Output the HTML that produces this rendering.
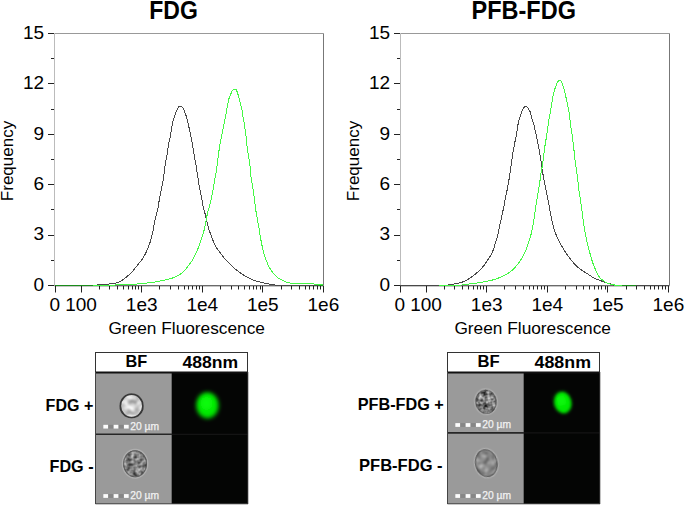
<!DOCTYPE html>
<html><head><meta charset="utf-8"><style>
html,body{margin:0;padding:0;background:#fff;}
body{width:685px;height:506px;overflow:hidden;}
svg{display:block;font-family:"Liberation Sans",sans-serif;}
</style></head><body>
<svg width="685" height="506" viewBox="0 0 685 506">
<defs>
<filter id="soft" x="-20%" y="-20%" width="140%" height="140%"><feGaussianBlur stdDeviation="0.5"/></filter>
<filter id="soft2" x="-20%" y="-20%" width="140%" height="140%"><feGaussianBlur stdDeviation="0.7"/></filter>
<filter id="blurA" x="-50%" y="-50%" width="200%" height="200%"><feGaussianBlur stdDeviation="2.0"/></filter>
<filter id="blurB" x="-50%" y="-50%" width="200%" height="200%"><feGaussianBlur stdDeviation="3"/></filter>
<filter id="blurC" x="-50%" y="-50%" width="200%" height="200%"><feGaussianBlur stdDeviation="1.4"/></filter>
<filter id="texL1" x="0" y="0" width="1" height="1" color-interpolation-filters="sRGB"><feTurbulence type="fractalNoise" baseFrequency="0.2" numOctaves="2" seed="7"/><feColorMatrix type="matrix" values="0.9 0 0 0 0.35000000000000003  0.9 0 0 0 0.35000000000000003  0.9 0 0 0 0.35000000000000003  0 0 0 0 1"/><feGaussianBlur stdDeviation="0.9"/></filter>
<filter id="texD2" x="0" y="0" width="1" height="1" color-interpolation-filters="sRGB"><feTurbulence type="fractalNoise" baseFrequency="0.22" numOctaves="2" seed="11"/><feColorMatrix type="matrix" values="0.9 0 0 0 0.04999999999999999  0.9 0 0 0 0.04999999999999999  0.9 0 0 0 0.04999999999999999  0 0 0 0 1"/><feGaussianBlur stdDeviation="0.75"/></filter>
<filter id="texD3" x="0" y="0" width="1" height="1" color-interpolation-filters="sRGB"><feTurbulence type="fractalNoise" baseFrequency="0.24" numOctaves="2" seed="5"/><feColorMatrix type="matrix" values="1.1 0 0 0 -0.08000000000000007  1.1 0 0 0 -0.08000000000000007  1.1 0 0 0 -0.08000000000000007  0 0 0 0 1"/><feGaussianBlur stdDeviation="0.7"/></filter>
<filter id="texD4" x="0" y="0" width="1" height="1" color-interpolation-filters="sRGB"><feTurbulence type="fractalNoise" baseFrequency="0.2" numOctaves="2" seed="9"/><feColorMatrix type="matrix" values="0.75 0 0 0 0.16500000000000004  0.75 0 0 0 0.16500000000000004  0.75 0 0 0 0.16500000000000004  0 0 0 0 1"/><feGaussianBlur stdDeviation="0.8"/></filter>
</defs>
<rect width="685" height="506" fill="#fff"/>
<line x1="54.50" y1="33.50" x2="323.50" y2="33.50" stroke="#999" stroke-width="1"/>
<line x1="54.50" y1="33.50" x2="54.50" y2="285.50" stroke="#bbb" stroke-width="1"/>
<line x1="323.50" y1="33.50" x2="323.50" y2="285.50" stroke="#777" stroke-width="1"/>
<line x1="54.50" y1="285.50" x2="323.50" y2="285.50" stroke="#666" stroke-width="1"/>
<line x1="54.50" y1="286.30" x2="323.50" y2="286.30" stroke="#888" stroke-width="0.6"/>
<path d="M54.60,285.40 C60.83,285.38 84.43,285.45 92.00,285.30 C99.57,285.15 97.45,284.68 100.00,284.50 C102.55,284.32 104.82,284.40 107.30,284.20 C109.78,284.00 113.20,283.58 114.90,283.30 C116.60,283.02 116.47,282.90 117.50,282.50 C118.53,282.10 119.92,281.57 121.10,280.90 C122.28,280.23 123.45,279.37 124.60,278.50 C125.75,277.63 126.97,276.62 128.00,275.70 C129.03,274.78 129.88,273.92 130.80,273.00 C131.72,272.08 132.45,271.43 133.50,270.20 C134.55,268.97 135.70,267.37 137.10,265.60 C138.50,263.83 140.52,261.58 141.90,259.60 C143.28,257.62 144.38,255.67 145.40,253.70 C146.42,251.73 147.20,249.77 148.00,247.80 C148.80,245.83 149.55,243.88 150.20,241.90 C150.85,239.92 151.38,237.92 151.90,235.90 C152.42,233.88 152.90,231.88 153.30,229.80 C153.70,227.72 153.90,225.47 154.30,223.40 C154.70,221.33 155.22,219.38 155.70,217.40 C156.18,215.42 156.75,213.47 157.20,211.50 C157.65,209.53 158.05,207.58 158.40,205.60 C158.75,203.62 158.97,201.58 159.30,199.60 C159.63,197.62 160.00,195.67 160.40,193.70 C160.80,191.73 161.30,189.77 161.70,187.80 C162.10,185.83 162.47,183.88 162.80,181.90 C163.13,179.92 163.40,177.88 163.70,175.90 C164.00,173.92 164.32,172.08 164.60,170.00 C164.88,167.92 165.07,165.50 165.40,163.40 C165.73,161.30 166.23,159.38 166.60,157.40 C166.97,155.42 167.30,153.47 167.60,151.50 C167.90,149.53 168.07,147.58 168.40,145.60 C168.73,143.62 169.20,141.58 169.60,139.60 C170.00,137.62 170.45,135.67 170.80,133.70 C171.15,131.73 171.35,129.77 171.70,127.80 C172.05,125.83 172.43,123.83 172.90,121.90 C173.37,119.97 173.98,117.87 174.50,116.20 C175.02,114.53 175.52,113.12 176.00,111.90 C176.48,110.68 176.92,109.77 177.40,108.90 C177.88,108.03 178.40,107.15 178.90,106.70 C179.40,106.25 179.85,106.13 180.40,106.20 C180.95,106.27 181.70,106.65 182.20,107.10 C182.70,107.55 183.00,108.10 183.40,108.90 C183.80,109.70 184.17,110.80 184.60,111.90 C185.03,113.00 185.50,113.98 186.00,115.50 C186.50,117.02 187.13,119.17 187.60,121.00 C188.07,122.83 188.35,124.38 188.80,126.50 C189.25,128.62 189.85,131.52 190.30,133.70 C190.75,135.88 191.12,137.62 191.50,139.60 C191.88,141.58 192.25,143.62 192.60,145.60 C192.95,147.58 193.28,149.53 193.60,151.50 C193.92,153.47 194.15,155.42 194.50,157.40 C194.85,159.38 195.35,161.42 195.70,163.40 C196.05,165.38 196.27,167.22 196.60,169.30 C196.93,171.38 197.37,173.80 197.70,175.90 C198.03,178.00 198.30,179.92 198.60,181.90 C198.90,183.88 199.15,185.83 199.50,187.80 C199.85,189.77 200.30,191.73 200.70,193.70 C201.10,195.67 201.52,197.62 201.90,199.60 C202.28,201.58 202.57,203.62 203.00,205.60 C203.43,207.58 204.00,209.53 204.50,211.50 C205.00,213.47 205.52,215.42 206.00,217.40 C206.48,219.38 206.90,221.37 207.40,223.40 C207.90,225.43 208.38,227.60 209.00,229.60 C209.62,231.60 210.33,233.35 211.10,235.40 C211.87,237.45 212.68,239.83 213.60,241.90 C214.52,243.97 215.40,245.83 216.60,247.80 C217.80,249.77 219.32,251.73 220.80,253.70 C222.28,255.67 223.73,257.62 225.50,259.60 C227.27,261.58 229.23,263.62 231.40,265.60 C233.57,267.58 235.83,269.53 238.50,271.50 C241.17,273.47 244.65,275.87 247.40,277.40 C250.15,278.93 252.58,279.85 255.00,280.70 C257.42,281.55 259.57,281.95 261.90,282.50 C264.23,283.05 266.65,283.57 269.00,284.00 C271.35,284.43 272.50,284.87 276.00,285.10 C279.50,285.33 282.10,285.35 290.00,285.40 C297.90,285.45 317.83,285.40 323.40,285.40" fill="none" stroke="#484848" stroke-width="1" shape-rendering="crispEdges"/>
<path d="M54.60,285.40 C63.50,285.38 97.77,285.38 108.00,285.30 C118.23,285.22 113.17,285.03 116.00,284.90 C118.83,284.77 121.48,284.65 125.00,284.50 C128.52,284.35 133.10,284.28 137.10,284.00 C141.10,283.72 145.63,283.20 149.00,282.80 C152.37,282.40 154.53,282.10 157.30,281.60 C160.07,281.10 162.73,280.50 165.60,279.80 C168.47,279.10 172.35,278.17 174.50,277.40 C176.65,276.63 177.35,275.87 178.50,275.20 C179.65,274.53 180.25,274.35 181.40,273.40 C182.55,272.45 184.08,270.98 185.40,269.50 C186.72,268.02 188.07,266.15 189.30,264.50 C190.53,262.85 191.80,261.25 192.80,259.60 C193.80,257.95 194.52,256.25 195.30,254.60 C196.08,252.95 196.80,251.33 197.50,249.70 C198.20,248.07 198.88,246.45 199.50,244.80 C200.12,243.15 200.67,241.45 201.20,239.80 C201.73,238.15 202.20,236.55 202.70,234.90 C203.20,233.25 203.75,231.63 204.20,229.90 C204.65,228.17 205.00,226.58 205.40,224.50 C205.80,222.42 206.17,219.57 206.60,217.40 C207.03,215.23 207.50,213.47 208.00,211.50 C208.50,209.53 209.08,207.58 209.60,205.60 C210.12,203.62 210.65,201.58 211.10,199.60 C211.55,197.62 211.90,195.67 212.30,193.70 C212.70,191.73 213.17,189.77 213.50,187.80 C213.83,185.83 213.97,183.88 214.30,181.90 C214.63,179.92 215.12,177.95 215.50,175.90 C215.88,173.85 216.28,171.68 216.60,169.60 C216.92,167.52 217.15,165.43 217.40,163.40 C217.65,161.37 217.85,159.38 218.10,157.40 C218.35,155.42 218.63,153.47 218.90,151.50 C219.17,149.53 219.37,147.58 219.70,145.60 C220.03,143.62 220.50,141.58 220.90,139.60 C221.30,137.62 221.70,135.67 222.10,133.70 C222.50,131.73 222.90,129.77 223.30,127.80 C223.70,125.83 224.10,123.88 224.50,121.90 C224.90,119.92 225.35,117.80 225.70,115.90 C226.05,114.00 226.33,112.12 226.60,110.50 C226.87,108.88 227.08,107.42 227.30,106.20 C227.52,104.98 227.68,104.18 227.90,103.20 C228.12,102.22 228.37,101.25 228.60,100.30 C228.83,99.35 229.05,98.32 229.30,97.50 C229.55,96.68 229.77,96.17 230.10,95.40 C230.43,94.63 230.88,93.75 231.30,92.90 C231.72,92.05 232.07,90.92 232.60,90.30 C233.13,89.68 233.88,89.27 234.50,89.20 C235.12,89.13 235.80,89.28 236.30,89.90 C236.80,90.52 237.15,91.90 237.50,92.90 C237.85,93.90 238.10,94.92 238.40,95.90 C238.70,96.88 239.03,97.82 239.30,98.80 C239.57,99.78 239.77,100.82 240.00,101.80 C240.23,102.78 240.45,103.72 240.70,104.70 C240.95,105.68 241.27,106.70 241.50,107.70 C241.73,108.70 241.90,109.33 242.10,110.70 C242.30,112.07 242.38,114.03 242.70,115.90 C243.02,117.77 243.65,119.92 244.00,121.90 C244.35,123.88 244.50,125.83 244.80,127.80 C245.10,129.77 245.53,131.73 245.80,133.70 C246.07,135.67 246.20,137.62 246.40,139.60 C246.60,141.58 246.77,143.62 247.00,145.60 C247.23,147.58 247.52,149.53 247.80,151.50 C248.08,153.47 248.40,155.42 248.70,157.40 C249.00,159.38 249.32,161.38 249.60,163.40 C249.88,165.42 250.18,167.42 250.40,169.50 C250.62,171.58 250.65,173.83 250.90,175.90 C251.15,177.97 251.58,179.92 251.90,181.90 C252.22,183.88 252.52,185.83 252.80,187.80 C253.08,189.77 253.32,191.73 253.60,193.70 C253.88,195.67 254.23,197.62 254.50,199.60 C254.77,201.58 254.95,203.62 255.20,205.60 C255.45,207.58 255.68,209.53 256.00,211.50 C256.32,213.47 256.75,215.42 257.10,217.40 C257.45,219.38 257.75,221.37 258.10,223.40 C258.45,225.43 258.87,227.52 259.20,229.60 C259.53,231.68 259.75,233.85 260.10,235.90 C260.45,237.95 260.90,239.92 261.30,241.90 C261.70,243.88 262.05,245.83 262.50,247.80 C262.95,249.77 263.42,251.73 264.00,253.70 C264.58,255.67 265.27,257.62 266.00,259.60 C266.73,261.58 267.42,263.62 268.40,265.60 C269.38,267.58 270.82,269.92 271.90,271.50 C272.98,273.08 273.70,273.92 274.90,275.10 C276.10,276.28 277.62,277.62 279.10,278.60 C280.58,279.58 282.32,280.33 283.80,281.00 C285.28,281.67 286.80,282.23 288.00,282.60 C289.20,282.97 289.67,283.05 291.00,283.20 C292.33,283.35 292.42,283.45 296.00,283.50 C299.58,283.55 309.33,283.37 312.50,283.50 C315.67,283.63 313.58,284.12 315.00,284.30 C316.42,284.48 319.60,284.45 321.00,284.60 C322.40,284.75 323.00,285.10 323.40,285.20" fill="none" stroke="#44f844" stroke-width="1" shape-rendering="crispEdges"/>
<line x1="55" y1="285.5" x2="93" y2="285.5" stroke="#1a8c1a" stroke-width="1" shape-rendering="crispEdges"/>
<line x1="318" y1="285.5" x2="323" y2="285.5" stroke="#1a8c1a" stroke-width="1" shape-rendering="crispEdges"/>
<line x1="48.00" y1="285.50" x2="54.00" y2="285.50" stroke="#222" stroke-width="1"/>
<text x="44.20" y="290.70" font-size="19" text-anchor="end" font-weight="normal" >0</text>
<line x1="48.00" y1="235.50" x2="54.00" y2="235.50" stroke="#222" stroke-width="1"/>
<text x="44.20" y="240.30" font-size="19" text-anchor="end" font-weight="normal" >3</text>
<line x1="48.00" y1="184.50" x2="54.00" y2="184.50" stroke="#222" stroke-width="1"/>
<text x="44.20" y="189.90" font-size="19" text-anchor="end" font-weight="normal" >6</text>
<line x1="48.00" y1="134.50" x2="54.00" y2="134.50" stroke="#222" stroke-width="1"/>
<text x="44.20" y="139.50" font-size="19" text-anchor="end" font-weight="normal" >9</text>
<line x1="48.00" y1="83.50" x2="54.00" y2="83.50" stroke="#222" stroke-width="1"/>
<text x="44.20" y="89.10" font-size="19" text-anchor="end" font-weight="normal" >12</text>
<line x1="48.00" y1="33.50" x2="54.00" y2="33.50" stroke="#222" stroke-width="1"/>
<text x="44.20" y="38.70" font-size="19" text-anchor="end" font-weight="normal" >15</text>
<line x1="51.00" y1="260.50" x2="54.00" y2="260.50" stroke="#222" stroke-width="1"/>
<line x1="51.00" y1="209.50" x2="54.00" y2="209.50" stroke="#222" stroke-width="1"/>
<line x1="51.00" y1="159.50" x2="54.00" y2="159.50" stroke="#222" stroke-width="1"/>
<line x1="51.00" y1="109.50" x2="54.00" y2="109.50" stroke="#222" stroke-width="1"/>
<line x1="51.00" y1="58.50" x2="54.00" y2="58.50" stroke="#222" stroke-width="1"/>
<line x1="55.50" y1="286.00" x2="55.50" y2="292.50" stroke="#222" stroke-width="1"/>
<text x="54.90" y="311.00" font-size="19" text-anchor="middle" font-weight="normal" >0</text>
<line x1="81.50" y1="286.00" x2="81.50" y2="292.50" stroke="#222" stroke-width="1"/>
<text x="81.10" y="311.00" font-size="19" text-anchor="middle" font-weight="normal" >100</text>
<line x1="141.50" y1="286.00" x2="141.50" y2="292.50" stroke="#222" stroke-width="1"/>
<text x="141.67" y="311.00" font-size="19" text-anchor="middle" font-weight="normal" >1e3</text>
<line x1="202.50" y1="286.00" x2="202.50" y2="292.50" stroke="#222" stroke-width="1"/>
<text x="202.24" y="311.00" font-size="19" text-anchor="middle" font-weight="normal" >1e4</text>
<line x1="262.50" y1="286.00" x2="262.50" y2="292.50" stroke="#222" stroke-width="1"/>
<text x="262.81" y="311.00" font-size="19" text-anchor="middle" font-weight="normal" >1e5</text>
<line x1="323.50" y1="286.00" x2="323.50" y2="292.50" stroke="#222" stroke-width="1"/>
<text x="323.38" y="311.00" font-size="19" text-anchor="middle" font-weight="normal" >1e6</text>
<line x1="99.50" y1="286.00" x2="99.50" y2="289.50" stroke="#222" stroke-width="1"/>
<line x1="109.50" y1="286.00" x2="109.50" y2="289.50" stroke="#222" stroke-width="1"/>
<line x1="117.50" y1="286.00" x2="117.50" y2="289.50" stroke="#222" stroke-width="1"/>
<line x1="123.50" y1="286.00" x2="123.50" y2="289.50" stroke="#222" stroke-width="1"/>
<line x1="128.50" y1="286.00" x2="128.50" y2="289.50" stroke="#222" stroke-width="1"/>
<line x1="132.50" y1="286.00" x2="132.50" y2="289.50" stroke="#222" stroke-width="1"/>
<line x1="135.50" y1="286.00" x2="135.50" y2="289.50" stroke="#222" stroke-width="1"/>
<line x1="138.50" y1="286.00" x2="138.50" y2="289.50" stroke="#222" stroke-width="1"/>
<line x1="159.50" y1="286.00" x2="159.50" y2="289.50" stroke="#222" stroke-width="1"/>
<line x1="170.50" y1="286.00" x2="170.50" y2="289.50" stroke="#222" stroke-width="1"/>
<line x1="178.50" y1="286.00" x2="178.50" y2="289.50" stroke="#222" stroke-width="1"/>
<line x1="184.50" y1="286.00" x2="184.50" y2="289.50" stroke="#222" stroke-width="1"/>
<line x1="188.50" y1="286.00" x2="188.50" y2="289.50" stroke="#222" stroke-width="1"/>
<line x1="192.50" y1="286.00" x2="192.50" y2="289.50" stroke="#222" stroke-width="1"/>
<line x1="196.50" y1="286.00" x2="196.50" y2="289.50" stroke="#222" stroke-width="1"/>
<line x1="199.50" y1="286.00" x2="199.50" y2="289.50" stroke="#222" stroke-width="1"/>
<line x1="220.50" y1="286.00" x2="220.50" y2="289.50" stroke="#222" stroke-width="1"/>
<line x1="231.50" y1="286.00" x2="231.50" y2="289.50" stroke="#222" stroke-width="1"/>
<line x1="238.50" y1="286.00" x2="238.50" y2="289.50" stroke="#222" stroke-width="1"/>
<line x1="244.50" y1="286.00" x2="244.50" y2="289.50" stroke="#222" stroke-width="1"/>
<line x1="249.50" y1="286.00" x2="249.50" y2="289.50" stroke="#222" stroke-width="1"/>
<line x1="253.50" y1="286.00" x2="253.50" y2="289.50" stroke="#222" stroke-width="1"/>
<line x1="256.50" y1="286.00" x2="256.50" y2="289.50" stroke="#222" stroke-width="1"/>
<line x1="260.50" y1="286.00" x2="260.50" y2="289.50" stroke="#222" stroke-width="1"/>
<line x1="281.50" y1="286.00" x2="281.50" y2="289.50" stroke="#222" stroke-width="1"/>
<line x1="291.50" y1="286.00" x2="291.50" y2="289.50" stroke="#222" stroke-width="1"/>
<line x1="299.50" y1="286.00" x2="299.50" y2="289.50" stroke="#222" stroke-width="1"/>
<line x1="305.50" y1="286.00" x2="305.50" y2="289.50" stroke="#222" stroke-width="1"/>
<line x1="309.50" y1="286.00" x2="309.50" y2="289.50" stroke="#222" stroke-width="1"/>
<line x1="313.50" y1="286.00" x2="313.50" y2="289.50" stroke="#222" stroke-width="1"/>
<line x1="317.50" y1="286.00" x2="317.50" y2="289.50" stroke="#222" stroke-width="1"/>
<line x1="320.50" y1="286.00" x2="320.50" y2="289.50" stroke="#222" stroke-width="1"/>
<text x="186.70" y="334.00" font-size="17.3" text-anchor="middle" font-weight="normal" >Green Fluorescence</text>
<text x="0" y="0" font-size="17" text-anchor="middle" transform="translate(13.4,161) rotate(-90)">Frequency</text>
<text x="0" y="0" font-size="25.3" font-weight="bold" transform="translate(149.28,19.0) scale(0.909,1)">FDG</text>
<line x1="400.50" y1="33.50" x2="669.50" y2="33.50" stroke="#999" stroke-width="1"/>
<line x1="400.50" y1="33.50" x2="400.50" y2="285.50" stroke="#bbb" stroke-width="1"/>
<line x1="669.50" y1="33.50" x2="669.50" y2="285.50" stroke="#777" stroke-width="1"/>
<line x1="400.50" y1="285.50" x2="669.50" y2="285.50" stroke="#666" stroke-width="1"/>
<line x1="400.50" y1="286.30" x2="669.50" y2="286.30" stroke="#888" stroke-width="0.6"/>
<path d="M400.50,285.40 C406.75,285.37 429.75,285.28 438.00,285.20 C446.25,285.12 447.33,285.10 450.00,284.90 C452.67,284.70 452.30,284.35 454.00,284.00 C455.70,283.65 458.18,283.40 460.20,282.80 C462.22,282.20 464.33,281.30 466.10,280.40 C467.87,279.50 468.73,278.88 470.80,277.40 C472.87,275.92 476.32,273.47 478.50,271.50 C480.68,269.53 482.32,267.58 483.90,265.60 C485.48,263.62 486.72,261.58 488.00,259.60 C489.28,257.62 490.60,255.67 491.60,253.70 C492.60,251.73 493.32,249.77 494.00,247.80 C494.68,245.83 495.12,243.88 495.70,241.90 C496.28,239.92 496.98,237.92 497.50,235.90 C498.02,233.88 498.35,231.88 498.80,229.80 C499.25,227.72 499.73,225.47 500.20,223.40 C500.67,221.33 501.17,219.38 501.60,217.40 C502.03,215.42 502.38,213.47 502.80,211.50 C503.22,209.53 503.72,207.58 504.10,205.60 C504.48,203.62 504.73,201.58 505.10,199.60 C505.47,197.62 505.88,195.67 506.30,193.70 C506.72,191.73 507.22,189.77 507.60,187.80 C507.98,185.83 508.27,183.88 508.60,181.90 C508.93,179.92 509.30,177.92 509.60,175.90 C509.90,173.88 510.10,171.88 510.40,169.80 C510.70,167.72 511.10,165.47 511.40,163.40 C511.70,161.33 511.92,159.38 512.20,157.40 C512.48,155.42 512.77,153.47 513.10,151.50 C513.43,149.53 513.82,147.58 514.20,145.60 C514.58,143.62 515.00,141.58 515.40,139.60 C515.80,137.62 516.25,135.67 516.60,133.70 C516.95,131.73 517.18,129.77 517.50,127.80 C517.82,125.83 518.13,123.57 518.50,121.90 C518.87,120.23 519.33,118.98 519.70,117.80 C520.07,116.62 520.37,115.78 520.70,114.80 C521.03,113.82 521.33,112.87 521.70,111.90 C522.07,110.93 522.48,109.80 522.90,109.00 C523.32,108.20 523.73,107.53 524.20,107.10 C524.67,106.67 525.20,106.42 525.70,106.40 C526.20,106.38 526.73,106.58 527.20,107.00 C527.67,107.42 528.00,108.08 528.50,108.90 C529.00,109.72 529.77,110.83 530.20,111.90 C530.63,112.97 530.73,113.90 531.10,115.30 C531.47,116.70 531.98,118.90 532.40,120.30 C532.82,121.70 533.25,122.50 533.60,123.70 C533.95,124.90 534.12,125.83 534.50,127.50 C534.88,129.17 535.47,131.68 535.90,133.70 C536.33,135.72 536.70,137.62 537.10,139.60 C537.50,141.58 537.90,143.62 538.30,145.60 C538.70,147.58 539.15,149.53 539.50,151.50 C539.85,153.47 540.08,155.42 540.40,157.40 C540.72,159.38 541.08,161.15 541.40,163.40 C541.72,165.65 541.95,168.65 542.30,170.90 C542.65,173.15 543.12,174.92 543.50,176.90 C543.88,178.88 544.22,180.83 544.60,182.80 C544.98,184.77 545.40,186.73 545.80,188.70 C546.20,190.67 546.60,192.62 547.00,194.60 C547.40,196.58 547.83,198.62 548.20,200.60 C548.57,202.58 548.85,204.53 549.20,206.50 C549.55,208.47 549.92,210.42 550.30,212.40 C550.68,214.38 551.10,216.47 551.50,218.40 C551.90,220.33 552.20,222.00 552.70,224.00 C553.20,226.00 553.78,228.27 554.50,230.40 C555.22,232.53 556.12,234.78 557.00,236.80 C557.88,238.82 558.87,240.72 559.80,242.50 C560.73,244.28 561.50,245.63 562.60,247.50 C563.70,249.37 565.00,251.67 566.40,253.70 C567.80,255.73 569.40,257.72 571.00,259.70 C572.60,261.68 573.88,263.63 576.00,265.60 C578.12,267.57 581.53,269.97 583.70,271.50 C585.87,273.03 587.45,273.80 589.00,274.80 C590.55,275.80 591.48,276.68 593.00,277.50 C594.52,278.32 596.27,278.97 598.10,279.70 C599.93,280.43 602.28,281.28 604.00,281.90 C605.72,282.52 606.70,282.97 608.40,283.40 C610.10,283.83 612.60,284.20 614.20,284.50 C615.80,284.80 608.87,285.05 618.00,285.20 C627.13,285.35 660.50,285.37 669.00,285.40" fill="none" stroke="#484848" stroke-width="1" shape-rendering="crispEdges"/>
<path d="M439.30,285.30 C442.78,285.27 456.13,285.22 460.20,285.10 C464.27,284.98 461.33,284.88 463.70,284.60 C466.07,284.32 470.83,283.90 474.40,283.40 C477.97,282.90 481.93,282.20 485.10,281.60 C488.27,281.00 490.92,280.50 493.40,279.80 C495.88,279.10 498.07,278.18 500.00,277.40 C501.93,276.62 503.38,275.97 505.00,275.10 C506.62,274.23 508.02,273.48 509.70,272.20 C511.38,270.92 513.42,269.18 515.10,267.40 C516.78,265.62 518.42,263.47 519.80,261.50 C521.18,259.53 522.35,257.58 523.40,255.60 C524.45,253.62 525.32,251.58 526.10,249.60 C526.88,247.62 527.43,245.67 528.10,243.70 C528.77,241.73 529.50,239.77 530.10,237.80 C530.70,235.83 531.23,233.88 531.70,231.90 C532.17,229.92 532.53,227.88 532.90,225.90 C533.27,223.92 533.57,222.25 533.90,220.00 C534.23,217.75 534.58,214.65 534.90,212.40 C535.22,210.15 535.50,208.47 535.80,206.50 C536.10,204.53 536.37,202.58 536.70,200.60 C537.03,198.62 537.47,196.58 537.80,194.60 C538.13,192.62 538.38,190.67 538.70,188.70 C539.02,186.73 539.40,184.77 539.70,182.80 C540.00,180.83 540.23,178.88 540.50,176.90 C540.77,174.92 540.97,172.88 541.30,170.90 C541.63,168.92 542.15,167.25 542.50,165.00 C542.85,162.75 543.12,159.65 543.40,157.40 C543.68,155.15 543.93,153.47 544.20,151.50 C544.47,149.53 544.70,147.58 545.00,145.60 C545.30,143.62 545.68,141.58 546.00,139.60 C546.32,137.62 546.60,135.67 546.90,133.70 C547.20,131.73 547.52,129.77 547.80,127.80 C548.08,125.83 548.30,123.88 548.60,121.90 C548.90,119.92 549.25,117.88 549.60,115.90 C549.95,113.92 550.38,111.93 550.70,110.00 C551.02,108.07 551.27,105.68 551.50,104.30 C551.73,102.92 551.93,102.63 552.10,101.70 C552.27,100.77 552.33,99.70 552.50,98.70 C552.67,97.70 552.88,96.68 553.10,95.70 C553.32,94.72 553.55,93.78 553.80,92.80 C554.05,91.82 554.30,90.78 554.60,89.80 C554.90,88.82 555.25,87.88 555.60,86.90 C555.95,85.92 556.27,84.83 556.70,83.90 C557.13,82.97 557.68,81.87 558.20,81.30 C558.72,80.73 559.30,80.53 559.80,80.50 C560.30,80.47 560.80,80.53 561.20,81.10 C561.60,81.67 561.83,82.93 562.20,83.90 C562.57,84.87 563.05,85.92 563.40,86.90 C563.75,87.88 564.03,88.82 564.30,89.80 C564.57,90.78 564.78,91.82 565.00,92.80 C565.22,93.78 565.38,94.72 565.60,95.70 C565.82,96.68 566.07,97.70 566.30,98.70 C566.53,99.70 566.77,100.50 567.00,101.70 C567.23,102.90 567.37,104.20 567.70,105.90 C568.03,107.60 568.65,109.92 569.00,111.90 C569.35,113.88 569.57,115.83 569.80,117.80 C570.03,119.77 570.17,121.73 570.40,123.70 C570.63,125.67 570.90,127.62 571.20,129.60 C571.50,131.58 571.90,133.62 572.20,135.60 C572.50,137.58 572.75,139.53 573.00,141.50 C573.25,143.47 573.48,145.42 573.70,147.40 C573.92,149.38 574.08,151.38 574.30,153.40 C574.52,155.42 574.72,157.25 575.00,159.50 C575.28,161.75 575.70,164.68 576.00,166.90 C576.30,169.12 576.53,170.83 576.80,172.80 C577.07,174.77 577.33,176.73 577.60,178.70 C577.87,180.67 578.17,182.62 578.40,184.60 C578.63,186.58 578.75,188.62 579.00,190.60 C579.25,192.58 579.60,194.53 579.90,196.50 C580.20,198.47 580.52,200.42 580.80,202.40 C581.08,204.38 581.32,206.38 581.60,208.40 C581.88,210.42 582.23,212.42 582.50,214.50 C582.77,216.58 582.93,218.83 583.20,220.90 C583.47,222.97 583.77,224.92 584.10,226.90 C584.43,228.88 584.82,230.83 585.20,232.80 C585.58,234.77 586.00,236.73 586.40,238.70 C586.80,240.67 587.13,242.62 587.60,244.60 C588.07,246.58 588.65,248.62 589.20,250.60 C589.75,252.58 590.33,254.53 590.90,256.50 C591.47,258.47 591.92,260.42 592.60,262.40 C593.28,264.38 594.17,266.40 595.00,268.40 C595.83,270.40 596.72,272.77 597.60,274.40 C598.48,276.03 599.37,277.20 600.30,278.20 C601.23,279.20 602.22,279.67 603.20,280.40 C604.18,281.13 604.98,281.98 606.20,282.60 C607.42,283.22 608.80,283.67 610.50,284.10 C612.20,284.53 612.15,284.98 616.40,285.20 C620.65,285.42 632.73,285.37 636.00,285.40" fill="none" stroke="#44f844" stroke-width="1" shape-rendering="crispEdges"/>
<line x1="622" y1="285.5" x2="636" y2="285.5" stroke="#1a8c1a" stroke-width="1" shape-rendering="crispEdges"/>
<line x1="394.00" y1="285.50" x2="400.00" y2="285.50" stroke="#222" stroke-width="1"/>
<text x="390.20" y="290.70" font-size="19" text-anchor="end" font-weight="normal" >0</text>
<line x1="394.00" y1="235.50" x2="400.00" y2="235.50" stroke="#222" stroke-width="1"/>
<text x="390.20" y="240.30" font-size="19" text-anchor="end" font-weight="normal" >3</text>
<line x1="394.00" y1="184.50" x2="400.00" y2="184.50" stroke="#222" stroke-width="1"/>
<text x="390.20" y="189.90" font-size="19" text-anchor="end" font-weight="normal" >6</text>
<line x1="394.00" y1="134.50" x2="400.00" y2="134.50" stroke="#222" stroke-width="1"/>
<text x="390.20" y="139.50" font-size="19" text-anchor="end" font-weight="normal" >9</text>
<line x1="394.00" y1="83.50" x2="400.00" y2="83.50" stroke="#222" stroke-width="1"/>
<text x="390.20" y="89.10" font-size="19" text-anchor="end" font-weight="normal" >12</text>
<line x1="394.00" y1="33.50" x2="400.00" y2="33.50" stroke="#222" stroke-width="1"/>
<text x="390.20" y="38.70" font-size="19" text-anchor="end" font-weight="normal" >15</text>
<line x1="397.00" y1="260.50" x2="400.00" y2="260.50" stroke="#222" stroke-width="1"/>
<line x1="397.00" y1="209.50" x2="400.00" y2="209.50" stroke="#222" stroke-width="1"/>
<line x1="397.00" y1="159.50" x2="400.00" y2="159.50" stroke="#222" stroke-width="1"/>
<line x1="397.00" y1="109.50" x2="400.00" y2="109.50" stroke="#222" stroke-width="1"/>
<line x1="397.00" y1="58.50" x2="400.00" y2="58.50" stroke="#222" stroke-width="1"/>
<line x1="400.50" y1="286.00" x2="400.50" y2="292.50" stroke="#222" stroke-width="1"/>
<text x="399.90" y="311.00" font-size="19" text-anchor="middle" font-weight="normal" >0</text>
<line x1="426.50" y1="286.00" x2="426.50" y2="292.50" stroke="#222" stroke-width="1"/>
<text x="426.10" y="311.00" font-size="19" text-anchor="middle" font-weight="normal" >100</text>
<line x1="486.50" y1="286.00" x2="486.50" y2="292.50" stroke="#222" stroke-width="1"/>
<text x="486.67" y="311.00" font-size="19" text-anchor="middle" font-weight="normal" >1e3</text>
<line x1="547.50" y1="286.00" x2="547.50" y2="292.50" stroke="#222" stroke-width="1"/>
<text x="547.24" y="311.00" font-size="19" text-anchor="middle" font-weight="normal" >1e4</text>
<line x1="607.50" y1="286.00" x2="607.50" y2="292.50" stroke="#222" stroke-width="1"/>
<text x="607.81" y="311.00" font-size="19" text-anchor="middle" font-weight="normal" >1e5</text>
<line x1="668.50" y1="286.00" x2="668.50" y2="292.50" stroke="#222" stroke-width="1"/>
<text x="668.38" y="311.00" font-size="19" text-anchor="middle" font-weight="normal" >1e6</text>
<line x1="444.50" y1="286.00" x2="444.50" y2="289.50" stroke="#222" stroke-width="1"/>
<line x1="454.50" y1="286.00" x2="454.50" y2="289.50" stroke="#222" stroke-width="1"/>
<line x1="462.50" y1="286.00" x2="462.50" y2="289.50" stroke="#222" stroke-width="1"/>
<line x1="468.50" y1="286.00" x2="468.50" y2="289.50" stroke="#222" stroke-width="1"/>
<line x1="473.50" y1="286.00" x2="473.50" y2="289.50" stroke="#222" stroke-width="1"/>
<line x1="477.50" y1="286.00" x2="477.50" y2="289.50" stroke="#222" stroke-width="1"/>
<line x1="480.50" y1="286.00" x2="480.50" y2="289.50" stroke="#222" stroke-width="1"/>
<line x1="483.50" y1="286.00" x2="483.50" y2="289.50" stroke="#222" stroke-width="1"/>
<line x1="504.50" y1="286.00" x2="504.50" y2="289.50" stroke="#222" stroke-width="1"/>
<line x1="515.50" y1="286.00" x2="515.50" y2="289.50" stroke="#222" stroke-width="1"/>
<line x1="523.50" y1="286.00" x2="523.50" y2="289.50" stroke="#222" stroke-width="1"/>
<line x1="529.50" y1="286.00" x2="529.50" y2="289.50" stroke="#222" stroke-width="1"/>
<line x1="533.50" y1="286.00" x2="533.50" y2="289.50" stroke="#222" stroke-width="1"/>
<line x1="537.50" y1="286.00" x2="537.50" y2="289.50" stroke="#222" stroke-width="1"/>
<line x1="541.50" y1="286.00" x2="541.50" y2="289.50" stroke="#222" stroke-width="1"/>
<line x1="544.50" y1="286.00" x2="544.50" y2="289.50" stroke="#222" stroke-width="1"/>
<line x1="565.50" y1="286.00" x2="565.50" y2="289.50" stroke="#222" stroke-width="1"/>
<line x1="576.50" y1="286.00" x2="576.50" y2="289.50" stroke="#222" stroke-width="1"/>
<line x1="583.50" y1="286.00" x2="583.50" y2="289.50" stroke="#222" stroke-width="1"/>
<line x1="589.50" y1="286.00" x2="589.50" y2="289.50" stroke="#222" stroke-width="1"/>
<line x1="594.50" y1="286.00" x2="594.50" y2="289.50" stroke="#222" stroke-width="1"/>
<line x1="598.50" y1="286.00" x2="598.50" y2="289.50" stroke="#222" stroke-width="1"/>
<line x1="601.50" y1="286.00" x2="601.50" y2="289.50" stroke="#222" stroke-width="1"/>
<line x1="605.50" y1="286.00" x2="605.50" y2="289.50" stroke="#222" stroke-width="1"/>
<line x1="626.50" y1="286.00" x2="626.50" y2="289.50" stroke="#222" stroke-width="1"/>
<line x1="636.50" y1="286.00" x2="636.50" y2="289.50" stroke="#222" stroke-width="1"/>
<line x1="644.50" y1="286.00" x2="644.50" y2="289.50" stroke="#222" stroke-width="1"/>
<line x1="650.50" y1="286.00" x2="650.50" y2="289.50" stroke="#222" stroke-width="1"/>
<line x1="654.50" y1="286.00" x2="654.50" y2="289.50" stroke="#222" stroke-width="1"/>
<line x1="658.50" y1="286.00" x2="658.50" y2="289.50" stroke="#222" stroke-width="1"/>
<line x1="662.50" y1="286.00" x2="662.50" y2="289.50" stroke="#222" stroke-width="1"/>
<line x1="665.50" y1="286.00" x2="665.50" y2="289.50" stroke="#222" stroke-width="1"/>
<text x="532.70" y="334.00" font-size="17.3" text-anchor="middle" font-weight="normal" >Green Fluorescence</text>
<text x="0" y="0" font-size="17" text-anchor="middle" transform="translate(359.4,161) rotate(-90)">Frequency</text>
<text x="0" y="0" font-size="25.3" font-weight="bold" transform="translate(471.54,18.8) scale(0.929,1)">PFB-FDG</text>
<rect x="95.5" y="352.5" width="152.0" height="20" fill="#fff" stroke="#333" stroke-width="1"/>
<text x="0" y="0" font-size="17.2" font-weight="bold" fill="#000" transform="translate(125.58,367.2) scale(0.949,1)">BF</text>
<text x="0" y="0" font-size="17.4" font-weight="bold" fill="#000" transform="translate(182.46,367.6) scale(1.011,1)">488nm</text>
<rect x="96" y="373" width="76" height="131" fill="#9a9a9a"/>
<rect x="172" y="373" width="76" height="131" fill="#040504"/>
<line x1="171.5" y1="373" x2="171.5" y2="504" stroke="#6a6a6a" stroke-width="1"/>
<clipPath id="cl1"><ellipse cx="131.6" cy="405.9" rx="11.9" ry="12.4" transform="rotate(0,131.6,405.9)"/></clipPath>
<ellipse cx="131.6" cy="405.9" rx="11.9" ry="12.4" transform="rotate(0,131.6,405.9)" fill="#c6c6c6"/>
<g clip-path="url(#cl1)"><rect x="117.69999999999999" y="391.5" width="27.8" height="28.8" filter="url(#texL1)"/></g>
<ellipse cx="131.6" cy="405.9" rx="11.3" ry="11.8" transform="rotate(0,131.6,405.9)" fill="none" stroke="#383838" stroke-width="1.8" filter="url(#soft2)"/>
<clipPath id="cl2"><ellipse cx="135.1" cy="463.8" rx="11.8" ry="13.4" transform="rotate(0,135.1,463.8)"/></clipPath>
<ellipse cx="135.1" cy="463.8" rx="12.600000000000001" ry="14.200000000000001" transform="rotate(0,135.1,463.8)" fill="none" stroke="#b6b6b6" stroke-width="1.5" stroke-opacity="0.7" filter="url(#soft)"/>
<ellipse cx="135.1" cy="463.8" rx="11.8" ry="13.4" transform="rotate(0,135.1,463.8)" fill="#808080"/>
<g clip-path="url(#cl2)"><rect x="121.3" y="448.40000000000003" width="27.6" height="30.8" filter="url(#texD2)"/></g>
<ellipse cx="135.1" cy="463.8" rx="11.4" ry="13.0" transform="rotate(0,135.1,463.8)" fill="none" stroke="#555" stroke-width="1.1" stroke-opacity="0.8" filter="url(#soft)"/>
<ellipse cx="207.5" cy="405.4" rx="11.0" ry="13.0" fill="#00e400" transform="rotate(0,207.5,405.4)" filter="url(#blurA)"/>
<ellipse cx="206.5" cy="403.4" rx="6.050000000000001" ry="7.15" fill="#08ff08" transform="rotate(0,207.5,405.4)" filter="url(#blurB)"/>
<line x1="95.5" y1="372.5" x2="247.5" y2="372.5" stroke="#111" stroke-width="2"/>
<line x1="96" y1="434.3" x2="172" y2="434.3" stroke="#262626" stroke-width="1.6"/>
<line x1="172" y1="434.3" x2="248" y2="434.3" stroke="#141414" stroke-width="1.2"/>
<line x1="95.5" y1="372" x2="95.5" y2="504" stroke="#444" stroke-width="1"/>
<line x1="95.5" y1="503.8" x2="248" y2="503.8" stroke="#444" stroke-width="1"/>
<line x1="247.8" y1="372" x2="247.8" y2="504" stroke="#333" stroke-width="1"/>
<rect x="103.3" y="424.8" width="25" height="3.8" fill="#868686"/>
<rect x="103.3" y="424.8" width="4.8" height="3.8" fill="#fcfcfc"/>
<rect x="113.6" y="424.8" width="4.8" height="3.8" fill="#fcfcfc"/>
<rect x="123.9" y="424.8" width="4.8" height="3.8" fill="#fcfcfc"/>
<text x="130.3" y="429.7" font-size="10.3" fill="#f2f2f2" stroke="#f2f2f2" stroke-width="0.25">20 µm</text>
<rect x="103.3" y="494.1" width="25" height="3.8" fill="#868686"/>
<rect x="103.3" y="494.1" width="4.8" height="3.8" fill="#fcfcfc"/>
<rect x="113.6" y="494.1" width="4.8" height="3.8" fill="#fcfcfc"/>
<rect x="123.9" y="494.1" width="4.8" height="3.8" fill="#fcfcfc"/>
<text x="130.3" y="498.9" font-size="10.3" fill="#f2f2f2" stroke="#f2f2f2" stroke-width="0.25">20 µm</text>
<text x="0" y="0" font-size="17.3" font-weight="bold" fill="#000" transform="translate(45.6,410.5) scale(0.927,1)">FDG +</text>
<text x="0" y="0" font-size="17.3" font-weight="bold" fill="#000" transform="translate(49.49,471.7) scale(0.936,1)">FDG -</text>
<rect x="447.5" y="352.5" width="152.0" height="20" fill="#fff" stroke="#333" stroke-width="1"/>
<text x="0" y="0" font-size="17.2" font-weight="bold" fill="#000" transform="translate(477.45,367.2) scale(0.968,1)">BF</text>
<text x="0" y="0" font-size="17.4" font-weight="bold" fill="#000" transform="translate(534.55,367.6) scale(1.024,1)">488nm</text>
<rect x="448" y="373" width="76" height="131" fill="#9a9a9a"/>
<rect x="524" y="373" width="76" height="131" fill="#040504"/>
<line x1="523.5" y1="373" x2="523.5" y2="504" stroke="#6a6a6a" stroke-width="1"/>
<clipPath id="cl3"><ellipse cx="486" cy="401.8" rx="10.4" ry="12.0" transform="rotate(-8,486,401.8)"/></clipPath>
<ellipse cx="486" cy="401.8" rx="11.200000000000001" ry="12.8" transform="rotate(-8,486,401.8)" fill="none" stroke="#b6b6b6" stroke-width="1.5" stroke-opacity="0.7" filter="url(#soft)"/>
<ellipse cx="486" cy="401.8" rx="10.4" ry="12.0" transform="rotate(-8,486,401.8)" fill="#808080"/>
<g clip-path="url(#cl3)"><rect x="473.6" y="387.8" width="24.8" height="28.0" filter="url(#texD3)"/></g>
<ellipse cx="486" cy="401.8" rx="10.0" ry="11.6" transform="rotate(-8,486,401.8)" fill="none" stroke="#555" stroke-width="1.1" stroke-opacity="0.8" filter="url(#soft)"/>
<clipPath id="cl4"><ellipse cx="486.3" cy="463.2" rx="11.0" ry="13.8" transform="rotate(-12,486.3,463.2)"/></clipPath>
<ellipse cx="486.3" cy="463.2" rx="11.8" ry="14.600000000000001" transform="rotate(-12,486.3,463.2)" fill="none" stroke="#b6b6b6" stroke-width="1.5" stroke-opacity="0.7" filter="url(#soft)"/>
<ellipse cx="486.3" cy="463.2" rx="11.0" ry="13.8" transform="rotate(-12,486.3,463.2)" fill="#808080"/>
<g clip-path="url(#cl4)"><rect x="473.3" y="447.4" width="26.0" height="31.6" filter="url(#texD4)"/></g>
<ellipse cx="486.3" cy="463.2" rx="10.6" ry="13.4" transform="rotate(-12,486.3,463.2)" fill="none" stroke="#555" stroke-width="1.1" stroke-opacity="0.8" filter="url(#soft)"/>
<ellipse cx="562.9" cy="402.6" rx="8.6" ry="10.8" fill="#00e400" transform="rotate(-12,562.9,402.6)" filter="url(#blurC)"/>
<ellipse cx="561.9" cy="400.6" rx="4.73" ry="5.940000000000001" fill="#08ff08" transform="rotate(-12,562.9,402.6)" filter="url(#blurB)"/>
<line x1="447.5" y1="372.5" x2="599.5" y2="372.5" stroke="#111" stroke-width="2"/>
<line x1="448" y1="432.9" x2="524" y2="432.9" stroke="#262626" stroke-width="1.6"/>
<line x1="524" y1="432.9" x2="600" y2="432.9" stroke="#141414" stroke-width="1.2"/>
<line x1="447.5" y1="372" x2="447.5" y2="504" stroke="#444" stroke-width="1"/>
<line x1="447.5" y1="503.8" x2="600" y2="503.8" stroke="#444" stroke-width="1"/>
<line x1="599.8" y1="372" x2="599.8" y2="504" stroke="#333" stroke-width="1"/>
<rect x="455.3" y="423.1" width="25" height="3.8" fill="#868686"/>
<rect x="455.3" y="423.1" width="4.8" height="3.8" fill="#fcfcfc"/>
<rect x="465.6" y="423.1" width="4.8" height="3.8" fill="#fcfcfc"/>
<rect x="475.90000000000003" y="423.1" width="4.8" height="3.8" fill="#fcfcfc"/>
<text x="482.3" y="427.8" font-size="10.3" fill="#f2f2f2" stroke="#f2f2f2" stroke-width="0.25">20 µm</text>
<rect x="455.3" y="494.1" width="25" height="3.8" fill="#868686"/>
<rect x="455.3" y="494.1" width="4.8" height="3.8" fill="#fcfcfc"/>
<rect x="465.6" y="494.1" width="4.8" height="3.8" fill="#fcfcfc"/>
<rect x="475.90000000000003" y="494.1" width="4.8" height="3.8" fill="#fcfcfc"/>
<text x="482.3" y="498.9" font-size="10.3" fill="#f2f2f2" stroke="#f2f2f2" stroke-width="0.25">20 µm</text>
<text x="0" y="0" font-size="17.3" font-weight="bold" fill="#000" transform="translate(357.68,409.6) scale(0.939,1)">PFB-FDG +</text>
<text x="0" y="0" font-size="17.3" font-weight="bold" fill="#000" transform="translate(359.06,471.0) scale(0.956,1)">PFB-FDG -</text>
</svg>
</body></html>
